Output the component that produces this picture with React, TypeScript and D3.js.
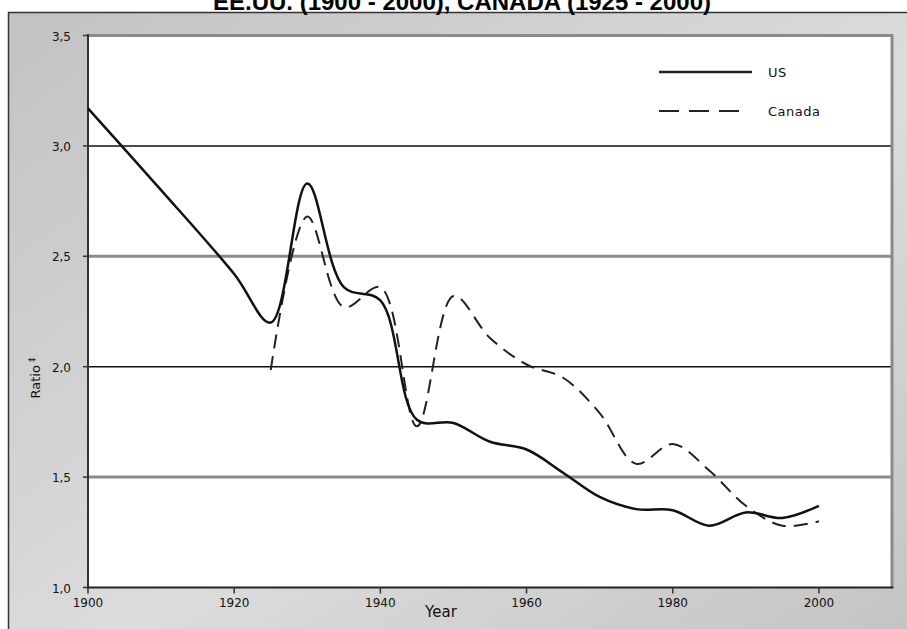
import React from "react";
import * as d3 from "d3";

const usYears = [1900, 1910, 1920, 1925, 1930, 1935, 1940, 1945, 1950, 1955, 1960, 1965, 1970, 1975, 1980, 1985, 1990, 1995, 2000];
const usValues = [3.17, 2.8, 2.42, 2.2, 2.83, 2.36, 2.3, 1.76, 1.745, 1.66, 1.625, 1.52, 1.41, 1.355, 1.35, 1.28, 1.34, 1.315, 1.37];
const caYears = [1925, 1930, 1935, 1940, 1945, 1950, 1955, 1960, 1965, 1970, 1975, 1980, 1985, 1990, 1995, 2000];
const caValues = [1.985, 2.68, 2.27, 2.36, 1.73, 2.32, 2.13, 2.01, 1.95, 1.79, 1.56, 1.65, 1.53, 1.37, 1.28, 1.3];
const yTicks = [1.0, 1.5, 2.0, 2.5, 3.0, 3.5];
const yTickLabels = ["1,0", "1,5", "2,0", "2,5", "3,0", "3,5"];
const xTicks = [1900, 1920, 1940, 1960, 1980, 2000];
const seriesNames = ["US", "Canada"];
const titleText = "EE.UU. (1900 - 2000), CANADA (1925 - 2000)";

const W = 907, H = 629;
const L = 88, R = 892, T = 35.5, B = 587.5;

export default function App() {
  const x = d3.scaleLinear().domain([1900, 2010]).range([L, R]);
  const y = d3.scaleLinear().domain([1.0, 3.5]).range([B, T]);
  const line = d3
    .line<[number, number]>()
    .x((d) => x(d[0]))
    .y((d) => y(d[1]))
    .curve(d3.curveCatmullRom.alpha(0.5));
  const usPath = line(usYears.map((yr, i) => [yr, usValues[i]] as [number, number])) || "";
  const caPath = line(caYears.map((yr, i) => [yr, caValues[i]] as [number, number])) || "";
  const tickFont = "'DejaVu Sans', Verdana, sans-serif";

  return (
    <svg
      width={W}
      height={H}
      style={{ position: "absolute", left: 0, top: 0 }}
      xmlns="http://www.w3.org/2000/svg"
    >
      <defs>
        <linearGradient id="panelGrad" x1="0" y1="0" x2="1" y2="1">
          <stop offset="0" stopColor="#c2c2c2" />
          <stop offset="0.5" stopColor="#dcdcdc" />
          <stop offset="1" stopColor="#bdbdbd" />
        </linearGradient>
      </defs>
      <rect x={0} y={0} width={W} height={H} fill="#fff" />
      <rect x={8.5} y={12.5} width={1000} height={700} fill="url(#panelGrad)" stroke="#333" strokeWidth={1.5} />
      <text
        x={462}
        y={10}
        textAnchor="middle"
        fontFamily="'Liberation Sans', Arial, sans-serif"
        fontWeight="bold"
        fontSize={24}
        fill="#000"
      >
        {titleText}
      </text>
      <rect x={L} y={T} width={R - L} height={B - T} fill="#fff" />
      {yTicks.slice(1).map((v, i) => (
        <line
          key={"g" + v}
          x1={L}
          x2={R}
          y1={y(v)}
          y2={y(v)}
          stroke={i % 2 === 0 ? "#8a8a8a" : "#111"}
          strokeWidth={i % 2 === 0 ? 3 : 1.5}
        />
      ))}
      <line x1={R} x2={R} y1={T - 1.5} y2={B} stroke="#8a8a8a" strokeWidth={3} />
      <line x1={L} x2={L} y1={T - 1.5} y2={B + 1} stroke="#333" strokeWidth={2} />
      <line x1={L - 1} x2={R + 1.5} y1={B} y2={B} stroke="#222" strokeWidth={2} />
      {yTicks.map((v, i) => (
        <g key={"yt" + v}>
          <line x1={L - 5} x2={L} y1={y(v)} y2={y(v)} stroke="#333" strokeWidth={1.5} />
          <text x={71} y={y(v) + 5} textAnchor="end" fontFamily={tickFont} fontSize={12} fill="#111">
            {yTickLabels[i]}
          </text>
        </g>
      ))}
      {xTicks.map((v) => (
        <g key={"xt" + v}>
          <line x1={x(v)} x2={x(v)} y1={B} y2={B + 6} stroke="#333" strokeWidth={1.5} />
          <text x={x(v)} y={607} textAnchor="middle" fontFamily={tickFont} fontSize={12} fill="#111">
            {v}
          </text>
        </g>
      ))}
      <text x={441} y={617} textAnchor="middle" fontFamily={tickFont} fontSize={15} fill="#111">
        Year
      </text>
      <text
        transform="translate(40,378) rotate(-90)"
        textAnchor="middle"
        fontFamily={tickFont}
        fontSize={13}
        fill="#111"
      >
        Ratio
        <tspan dx={3} dy={-5} fontSize={9}>‡</tspan>
      </text>
      <path d={caPath} fill="none" stroke="#222" strokeWidth={2} strokeDasharray="14,8" />
      <path d={usPath} fill="none" stroke="#111" strokeWidth={2.5} />
      <line x1={659} x2={752} y1={72} y2={72} stroke="#222" strokeWidth={2.5} />
      <line x1={659} x2={744} y1={111} y2={111} stroke="#222" strokeWidth={2} strokeDasharray="20,10" />
      <text x={768} y={76.5} fontFamily={tickFont} fontSize={13} fill="#111" letterSpacing={0.5}>
        {seriesNames[0]}
      </text>
      <text x={768} y={115.5} fontFamily={tickFont} fontSize={13} fill="#111" letterSpacing={0.5}>
        {seriesNames[1]}
      </text>
    </svg>
  );
}
